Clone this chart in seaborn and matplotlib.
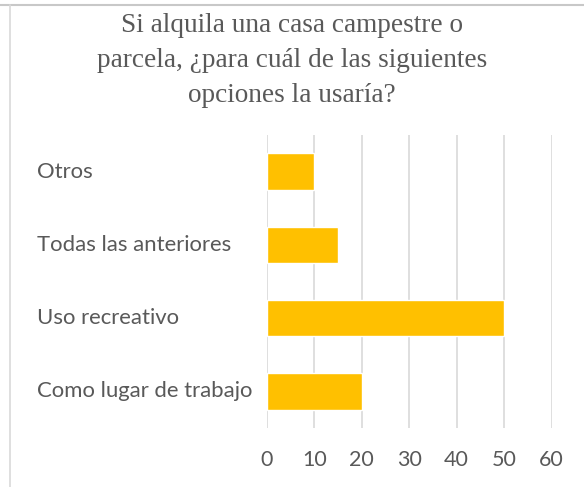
import numpy as np
import pandas as pd
import matplotlib
matplotlib.use('Agg')
import matplotlib.pyplot as plt
import seaborn as sns
from matplotlib.lines import Line2D
from matplotlib.transforms import blended_transform_factory

categories = ['Otros', 'Todas las anteriores', 'Uso recreativo', 'Como lugar de trabajo']
values = [10, 15, 50, 20]
x_ticks = [0, 10, 20, 30, 40, 50, 60]

title = 'Si alquila una casa campestre o\nparcela, ¿para cuál de las siguientes\nopciones la usaría?'

sns.set_style('white')
plt.rcParams['font.family'] = ['Lato', 'DejaVu Sans']

df = pd.DataFrame({'opcion': categories, 'valor': values})

fig = plt.figure(figsize=(5.84, 4.87), dpi=100)
ax = fig.add_axes([267 / 584, 1 - 428 / 487, (551.5 - 267) / 584, (428 - 135) / 487])

sns.barplot(data=df, x='valor', y='opcion', orient='h', color='#FFC000',
            saturation=1, width=0.5, ax=ax, zorder=3)

ax.set_xlim(0, 60)
ax.set_ylim(3.5, -0.5)
ax.set_xticks(x_ticks)
ax.set_xticklabels([str(t) for t in x_ticks], color='#595959', fontsize=15.5)
ax.tick_params(axis='x', length=0, pad=16)
ax.tick_params(axis='y', length=0)
ax.grid(axis='x', color='#D9D9D9', linewidth=1.2, zorder=0)
ax.grid(axis='y', visible=False)
for s in ax.spines.values():
    s.set_visible(False)
ax.set_xlabel('')
ax.set_ylabel('')

# left-aligned category labels
ax.set_yticklabels([])
tr = blended_transform_factory(fig.transFigure, ax.transData)
for i, c in enumerate(categories):
    fig.text(37 / 584, i, c, transform=tr, ha='left', va='center',
             fontsize=15.9, color='#595959')

fig.text(0.5, 1 - 12.5 / 487, title, ha='center', va='top', family='Liberation Serif',
         fontsize=19.6, color='#595959', linespacing=1.55)

# outer border pieces
fig.add_artist(Line2D([0, 1], [1 - 4.5 / 487, 1 - 4.5 / 487], transform=fig.transFigure,
                      color='#C8C8C8', linewidth=1.5))
fig.add_artist(Line2D([9.5 / 584, 9.5 / 584], [0, 1 - 4.5 / 487], transform=fig.transFigure,
                      color='#D9D9D9', linewidth=1.2))

fig.savefig('out.png', dpi=100)
